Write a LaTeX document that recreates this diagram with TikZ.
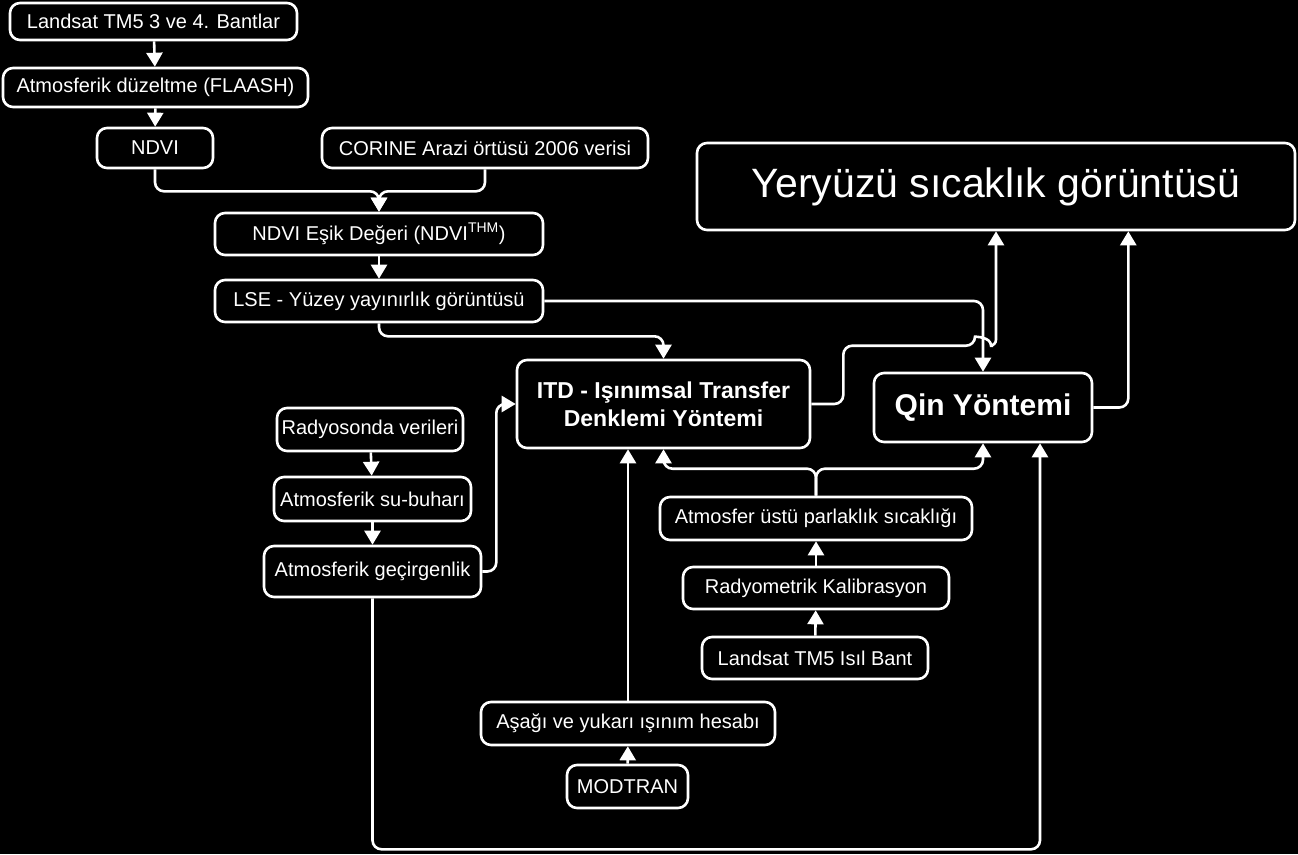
\documentclass[tikz,border=0pt]{standalone}
\usepackage{fontspec}
\setmainfont{Liberation Sans}
\usetikzlibrary{positioning,arrows.meta}

\begin{document}
\begin{tikzpicture}[x=1pt, y=-1pt, line width=2.6pt, >={Triangle[length=14pt,width=16pt]},
    block/.style={
    draw=white,
    fill=black,
    text=white,
    rectangle,
    rounded corners=10pt,
    inner sep=0pt,
    font=\fontsize{20}{24}\selectfont},
    link/.style={->, draw=white, rounded corners=9pt}]
    \useasboundingbox (0,0) rectangle (1298,854);
    \fill[black] (0,0) rectangle (1298,854);

    % left column
    \node [block, minimum width=287, minimum height=37] (Band34) at (153.5,21.5) {Landsat TM5 3 ve 4. Bantlar};
    \node [block, minimum width=305, minimum height=39] (Flaash) at (155.5,87.5) {Atmosferik düzeltme (FLAASH)};
    \node [block, minimum width=116, minimum height=40] (Ndvi) at (155,148) {NDVI};
    \node [block, minimum width=326, minimum height=40] (Corine) at (485,148) {CORINE Arazi örtüsü 2006 verisi};
    \node [block, minimum width=328, minimum height=42] (Esik) at (379,234) {NDVI Eşik Değeri (NDVI\textsuperscript{THM})};
    \node [block, minimum width=328, minimum height=42] (Lse) at (379,301) {LSE - Yüzey yayınırlık görüntüsü};

    \node [block, minimum width=186, minimum height=43] (Radyo) at (370,429.5) {Radyosonda verileri};
    \node [block, minimum width=197, minimum height=44] (SuBuhar) at (372.5,499) {Atmosferik su-buharı};
    \node [block, minimum width=217, minimum height=51] (Gecir) at (372.5,571.5) {Atmosferik geçirgenlik};

    % methods and result
    \node [block, minimum width=293, minimum height=88, align=center,
           font=\fontsize{23}{28}\selectfont\bfseries] (Itd) at (663.5,404) {ITD - Işınımsal Transfer\\Denklemi Yöntemi};
    \node [block, minimum width=218, minimum height=69,
           font=\fontsize{30}{36}\selectfont\bfseries] (Qin) at (983,407.5) {Qin Yöntemi};
    \node [block, minimum width=598, minimum height=87,
           font=\fontsize{41}{49}\selectfont] (Yer) at (996,186.5) {Yeryüzü sıcaklık görüntüsü};

    % thermal band column
    \node [block, minimum width=312, minimum height=43] (Ust) at (816,518.5) {Atmosfer üstü parlaklık sıcaklığı};
    \node [block, minimum width=266, minimum height=42] (Kalib) at (816,588) {Radyometrik Kalibrasyon};
    \node [block, minimum width=226, minimum height=42] (Isil) at (815,658) {Landsat TM5 Isıl Bant};

    \node [block, minimum width=294, minimum height=43] (Asagi) at (628,723.5) {Aşağı ve yukarı ışınım hesabı};
    \node [block, minimum width=121, minimum height=43] (Modtran) at (627.5,786.5) {MODTRAN};

    \draw[link] (Band34) -- (Flaash);
    \draw[link] (Flaash) -- (Ndvi);
    \draw[link] (Ndvi.south) -- ++(0,22) -| (Esik.north);
    \draw[link] (Corine.south) -- ++(0,22) -| (Esik.north);
    \draw[link] (Esik) -- (Lse);
    \draw[link] (Lse.south) -- ++(0,13) -| (Itd.north);
    \draw[link] (Lse.east) -| (Qin.north);

    % hop over the LSE line
    \draw[link] (Itd.east) -- ++(32,0) |- ([xshift=-8pt,yshift=26pt]Qin.north)
        [sharp corners] .. controls +(0,-9) and +(0,-9) .. ++(16,0) -- ++(2,0) [rounded corners=6pt] -| (Yer.south);
    \draw[link] (Qin.east) -- ++(35,0) coordinate (QinOut) -- (QinOut |- Yer.south);

    \draw[link] (Radyo) -- (SuBuhar);
    \draw[link] (SuBuhar) -- (Gecir);
    \draw[link] (Gecir.east) -- ++(14,0) |- (Itd.west);
    \draw[link] (Gecir.south) -- ++(0,251) -| ([xshift=57pt]Qin.south);

    \draw[link] (Isil) -- (Kalib);
    \draw[link] (Kalib) -- (Ust);
    \draw[link] (Ust.north) -- ++(0,-27) -| (Itd.south);
    \draw[link] (Ust.north) -- ++(0,-27) -| (Qin.south);

    \draw[link] (Modtran) -- (Asagi);
    \draw[link] (Asagi.north) -- (Asagi.north |- Itd.south);
\end{tikzpicture}
\end{document}
